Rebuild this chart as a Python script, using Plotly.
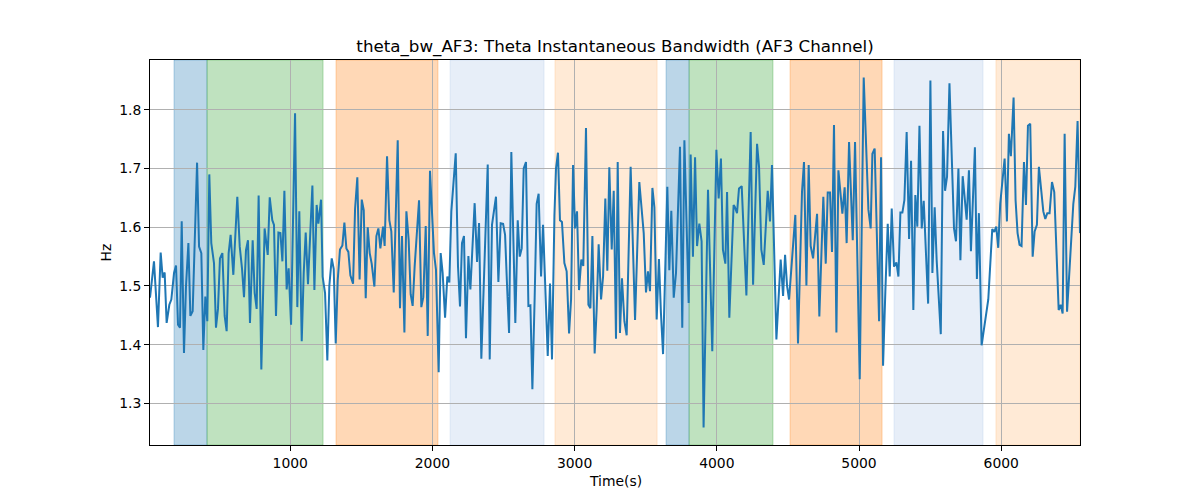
import plotly.graph_objects as go

# ---- data ----
time_s = [
    14, 42, 70, 89, 103, 117, 131, 150, 164, 183, 197, 211, 225, 237, 253, 267, 284, 298, 314, 328,
    345, 359, 375, 389, 403, 417, 431, 445, 464, 478, 492, 506, 523, 539, 553, 567, 581, 600, 628, 645,
    661, 675, 689, 703, 717, 736, 750, 764, 778, 797, 820,
    842, 856, 874, 886, 900, 917, 931, 945, 959, 975, 989, 1006, 1034, 1050, 1064, 1081, 1095, 1109, 1125, 1141,
    1156, 1170, 1186, 1198, 1217, 1228, 1245, 1261, 1275, 1292, 1306, 1320, 1334, 1350, 1367, 1381, 1395, 1409,
    1423, 1442, 1456, 1472, 1488, 1503, 1517, 1531, 1545, 1559, 1573, 1592, 1606, 1620, 1634, 1653,
    1664, 1681, 1697, 1711, 1728, 1756, 1772, 1786, 1803, 1817, 1833, 1847, 1861, 1875, 1906, 1922, 1936, 1953,
    1967, 1983, 2011, 2025, 2044, 2058, 2072, 2089, 2105, 2119, 2133, 2164, 2180, 2194, 2208, 2222, 2236, 2253,
    2267, 2297, 2314, 2328, 2344, 2389, 2403, 2419, 2447, 2464, 2480,
    2497, 2511, 2525, 2539, 2555, 2569, 2583, 2600, 2614, 2628, 2642, 2658, 2675, 2689, 2703, 2719, 2733, 2747,
    2764, 2778, 2794, 2811, 2827, 2841, 2858, 2869, 2883, 2897, 2911, 2928, 2944, 2961, 2975, 2989, 3003, 3017,
    3031, 3047, 3061, 3080, 3097, 3111, 3125, 3141, 3155, 3169, 3186, 3200, 3216, 3230, 3244, 3261, 3275, 3291, 3303,
    3319, 3333, 3350, 3366, 3394, 3425, 3455, 3486, 3502, 3516, 3530, 3547, 3561, 3577, 3593, 3607, 3622, 3652,
    3666, 3680, 3697, 3713, 3741, 3757, 3772, 3802, 3816, 3832, 3847, 3861, 3877, 3893, 3907, 3938, 3968, 3997,
    4013, 4029, 4043, 4060, 4072, 4088, 4118,
    4126, 4142, 4156, 4175, 4208, 4238, 4255, 4283, 4297, 4313, 4330, 4358, 4374, 4388, 4419, 4449, 4466, 4480,
    4494, 4508, 4552, 4571, 4599, 4613, 4630, 4646, 4660, 4677, 4691, 4705, 4721, 4749, 4766, 4780, 4796, 4810,
    4824, 4841, 4855, 4883, 4899, 4913, 4930,
    4956, 4972, 5005, 5033, 5050, 5066, 5082, 5094, 5110, 5125, 5141, 5155, 5169, 5185, 5202, 5216, 5230, 5246,
    5263, 5277, 5291, 5305, 5319, 5335, 5352, 5366, 5382, 5396, 5410, 5425, 5441, 5455, 5486, 5502, 5516, 5532,
    5546, 5575, 5591, 5605, 5619, 5636, 5652, 5668, 5682, 5699, 5713, 5729,
    5757, 5773, 5787, 5815, 5829, 5843, 5862, 5881, 5909, 5937, 5951, 5965, 5979, 5993, 6024, 6040, 6054, 6068,
    6087, 6101, 6115, 6129, 6143, 6160, 6174, 6188, 6204, 6221, 6235, 6251, 6265, 6296, 6310, 6324, 6340, 6357,
    6373, 6404, 6418, 6432, 6446, 6463, 6507, 6521, 6537, 6554,
]

theta_bw = [
    1.480, 1.542, 1.430, 1.557, 1.514, 1.523, 1.437, 1.468, 1.477, 1.522, 1.535, 1.434, 1.429, 1.610, 1.386, 1.499,
    1.573, 1.449, 1.457, 1.567, 1.710, 1.567, 1.556, 1.391, 1.482, 1.440, 1.690, 1.573, 1.539, 1.429, 1.461, 1.547,
    1.556, 1.449, 1.423, 1.556, 1.587, 1.519, 1.652, 1.567, 1.530, 1.481, 1.561, 1.578, 1.437, 1.578, 1.488, 1.461,
    1.654, 1.358, 1.598,
    1.553, 1.651, 1.612, 1.604, 1.449, 1.591, 1.590, 1.542, 1.662, 1.494, 1.530, 1.434, 1.794, 1.464, 1.627, 1.406,
    1.522, 1.591, 1.503, 1.590, 1.671, 1.493, 1.638, 1.606, 1.647, 1.516, 1.488, 1.373, 1.500, 1.547, 1.529, 1.402,
    1.510, 1.562, 1.569, 1.608, 1.564, 1.558, 1.518, 1.504, 1.631, 1.685, 1.511, 1.647, 1.629, 1.479, 1.600, 1.556,
    1.538, 1.499, 1.585, 1.598, 1.564, 1.601,
    1.568, 1.721, 1.612, 1.593, 1.489, 1.748, 1.462, 1.585, 1.421, 1.627, 1.578, 1.486, 1.466, 1.533, 1.646, 1.464,
    1.481, 1.602, 1.415, 1.696, 1.556, 1.528, 1.353, 1.556, 1.522, 1.446, 1.516, 1.506, 1.627, 1.726, 1.533, 1.465,
    1.573, 1.585, 1.411, 1.551, 1.494, 1.641, 1.541, 1.607, 1.376, 1.707, 1.375, 1.604, 1.652, 1.507, 1.607,
    1.606, 1.587, 1.500, 1.420, 1.728, 1.550, 1.437, 1.612, 1.550, 1.564, 1.700, 1.711, 1.466, 1.467, 1.324, 1.480,
    1.640, 1.657, 1.516, 1.604, 1.480, 1.381, 1.504, 1.375, 1.620, 1.700, 1.727, 1.612, 1.609, 1.539, 1.525, 1.419,
    1.477, 1.706, 1.598, 1.627, 1.493, 1.545, 1.534, 1.769, 1.468, 1.462, 1.585, 1.385, 1.460, 1.571, 1.477, 1.516,
    1.649, 1.526, 1.702, 1.562, 1.662, 1.410, 1.711,
    1.420, 1.513, 1.440, 1.416, 1.703, 1.442, 1.677, 1.590, 1.489, 1.525, 1.491, 1.667, 1.634, 1.443, 1.546, 1.454,
    1.384, 1.669, 1.527, 1.628, 1.480, 1.522, 1.737, 1.429, 1.748, 1.471, 1.724, 1.550, 1.719, 1.568, 1.606, 1.576,
    1.259, 1.664, 1.389, 1.732, 1.649, 1.717, 1.562, 1.538, 1.660, 1.446, 1.638,
    1.635, 1.624, 1.666, 1.670, 1.484, 1.762, 1.502, 1.742, 1.703, 1.562, 1.536, 1.662, 1.610, 1.706, 1.409, 1.545,
    1.483, 1.553, 1.500, 1.477, 1.621, 1.402, 1.660, 1.711, 1.501, 1.706, 1.568, 1.547, 1.585, 1.623, 1.448, 1.652,
    1.538, 1.659, 1.659, 1.558, 1.774, 1.421, 1.697, 1.623, 1.668, 1.573, 1.745,
    1.578, 1.745, 1.341, 1.855, 1.720, 1.630, 1.598, 1.725, 1.734, 1.578, 1.440, 1.719, 1.364, 1.490, 1.606, 1.516,
    1.632, 1.533, 1.540, 1.516, 1.625, 1.625, 1.646, 1.762, 1.580, 1.713, 1.459, 1.655, 1.601, 1.773, 1.598, 1.645,
    1.470, 1.850, 1.522, 1.634, 1.544, 1.418, 1.764, 1.662, 1.686, 1.845, 1.720, 1.598, 1.576, 1.700, 1.544, 1.687,
    1.613, 1.697, 1.559, 1.736, 1.512, 1.624, 1.399, 1.432, 1.477, 1.597, 1.592, 1.601, 1.565, 1.640, 1.717, 1.610,
    1.759, 1.721, 1.821, 1.646, 1.590, 1.570, 1.568, 1.711, 1.638, 1.773, 1.776, 1.550, 1.593, 1.604, 1.703, 1.627,
    1.614, 1.624, 1.624, 1.677, 1.660, 1.459, 1.468, 1.453, 1.759, 1.456, 1.640, 1.669, 1.781, 1.590,
]

band_starts = [183, 415, 1322, 2124, 2862, 3643, 3805, 4515, 5246, 5963]
band_ends = [415, 1231, 2039, 2785, 3580, 3805, 4395, 5162, 5872, 6554]
band_colors = [
    "rgba(31,119,180,0.3)", "rgba(44,160,44,0.3)", "rgba(255,127,14,0.3)", "rgba(174,199,232,0.3)",
    "rgba(255,187,120,0.3)", "rgba(31,119,180,0.3)", "rgba(44,160,44,0.3)", "rgba(255,127,14,0.3)",
    "rgba(174,199,232,0.3)", "rgba(255,187,120,0.3)",
]

x_ticks = [1000, 2000, 3000, 4000, 5000, 6000]
y_ticks = [1.3, 1.4, 1.5, 1.6, 1.7, 1.8]

title_text = "theta_bw_AF3: Theta Instantaneous Bandwidth (AF3 Channel)"
x_label = "Time(s)"
y_label = "Hz"

# ---- figure ----
FONT = "DejaVu Sans"
fig = go.Figure()

for s, e, c in zip(band_starts, band_ends, band_colors):
    fig.add_vrect(x0=s, x1=e, fillcolor=c, line=dict(width=1, color=c), layer="below")

fig.add_trace(go.Scatter(
    x=time_s, y=theta_bw, mode="lines",
    line=dict(color="#1f77b4", width=2), showlegend=False,
))

ymin, ymax = min(theta_bw), max(theta_bw)
pad = (ymax - ymin) * 0.05

axis_common = dict(
    showline=True, linecolor="black", linewidth=1, mirror=True,
    ticks="outside", ticklen=5, tickwidth=1, tickcolor="black",
    showgrid=True, gridcolor="#b0b0b0", gridwidth=1, zeroline=False,
    tickfont=dict(family=FONT, size=13.9, color="black"),
)

fig.update_xaxes(range=[time_s[0], time_s[-1]], tickvals=x_ticks,
                 ticktext=[str(t) for t in x_ticks], **axis_common)
fig.update_yaxes(range=[ymin - pad, ymax + pad], tickvals=y_ticks,
                 ticktext=[f"{t:.1f}" for t in y_ticks], **axis_common)

fig.update_layout(
    width=1200, height=500,
    margin=dict(l=150, r=120, t=60, b=55),
    paper_bgcolor="white", plot_bgcolor="white",
    font=dict(family=FONT, color="black"),
    title=dict(text=title_text, x=615 / 1200, xanchor="center",
               y=1 - 46 / 500, yanchor="middle", yref="container",
               font=dict(family=FONT, size=16.7, color="black")),
    annotations=[
        dict(text=x_label, xref="paper", yref="paper", x=0.5, y=(445 - 481) / 385,
             xanchor="center", yanchor="middle", showarrow=False,
             font=dict(family=FONT, size=13.9, color="black")),
        dict(text=y_label, xref="paper", yref="paper", x=(105 - 150) / 930, y=0.5,
             xanchor="center", yanchor="middle", textangle=-90, showarrow=False,
             font=dict(family=FONT, size=13.9, color="black")),
    ],
)

fig.write_html("out.html")
